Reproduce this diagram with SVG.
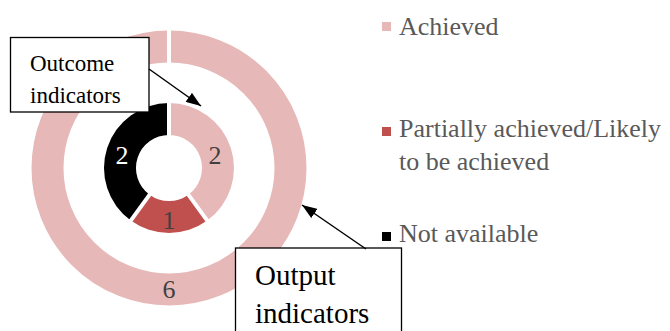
<svg xmlns="http://www.w3.org/2000/svg" width="670" height="331" viewBox="0 0 670 331">
<defs>
<style>
.ach{fill:#E6B9B8}
.par{fill:#C0504D}
.na{fill:#000000}
.sep{stroke:#FFFFFF;stroke-width:4;fill:none}
.val{font-size:26px;text-anchor:middle}
.box{fill:#FFFFFF;stroke:#000000;stroke-width:1.3}
.btxt{fill:#000000}
.leg{font-size:26px;fill:#595959}
.arr{stroke:#000000;stroke-width:1.5;fill:none}
</style>
<marker id="ah" viewBox="0 0 10 10" refX="10" refY="5" markerWidth="15" markerHeight="11" markerUnits="userSpaceOnUse" orient="auto" preserveAspectRatio="none">
<path d="M0,0 L10,5 L0,10 Z" fill="#000000"/>
</marker>
</defs>
<rect width="670" height="331" fill="#FFFFFF"/>
<g font-family="'Liberation Serif', 'Times New Roman', serif">
<g id="outer-ring">
<circle cx="169" cy="168" r="121.5" fill="none" stroke="#E6B9B8" stroke-width="32"/>
<line class="sep" x1="169" y1="25" x2="169" y2="72"/>
<text class="val" x="169" y="298" fill="#404040">6</text>
</g>

<g id="inner-ring">
<path class="ach" d="M169,103 A65,65 0 0 1 207.21,220.59 L188.40,194.70 A33,33 0 0 0 169,135 Z"/>
<path class="par" d="M207.21,220.59 A65,65 0 0 1 130.79,220.59 L149.60,194.70 A33,33 0 0 0 188.40,194.70 Z"/>
<path class="na" d="M130.79,220.59 A65,65 0 0 1 169,103 L169,135 A33,33 0 0 0 149.60,194.70 Z"/>
<line class="sep" x1="169" y1="98" x2="169" y2="140"/>
<line class="sep" x1="185.46" y1="190.66" x2="210.15" y2="224.64"/>
<line class="sep" x1="152.54" y1="190.66" x2="127.85" y2="224.64"/>
<text class="val" x="215" y="164" fill="#404040">2</text>
<text class="val" x="122" y="164" fill="#FFFFFF">2</text>
<text class="val" x="169" y="229" fill="#404040">1</text>
</g>

<g id="outcome-box">
<rect class="box" x="10.5" y="37.5" width="138.5" height="74.5"/>
<text class="btxt" x="30" y="71" font-size="23">Outcome</text>
<text class="btxt" x="30" y="102.5" font-size="23">indicators</text>
</g>

<g id="output-box">
<rect class="box" x="235.5" y="248" width="166" height="100"/>
<text class="btxt" x="255" y="285" font-size="29">Output</text>
<text class="btxt" x="255" y="322.5" font-size="29">indicators</text>
</g>

<g id="connectors">
<line class="arr" x1="149" y1="69" x2="201" y2="106" marker-end="url(#ah)"/>
<line class="arr" x1="366" y1="249" x2="302" y2="205" marker-end="url(#ah)"/>
</g>

<g id="legend">
<rect class="ach" x="382" y="22" width="9" height="9"/>
<text class="leg" x="399" y="35">Achieved</text>
<rect class="par" x="382" y="127" width="9" height="9"/>
<text class="leg" x="399" y="137">Partially achieved/Likely</text>
<text class="leg" x="399" y="169.5">to be achieved</text>
<rect class="na" x="382" y="232" width="9" height="9"/>
<text class="leg" x="399" y="242">Not available</text>
</g>
</g>
</svg>
